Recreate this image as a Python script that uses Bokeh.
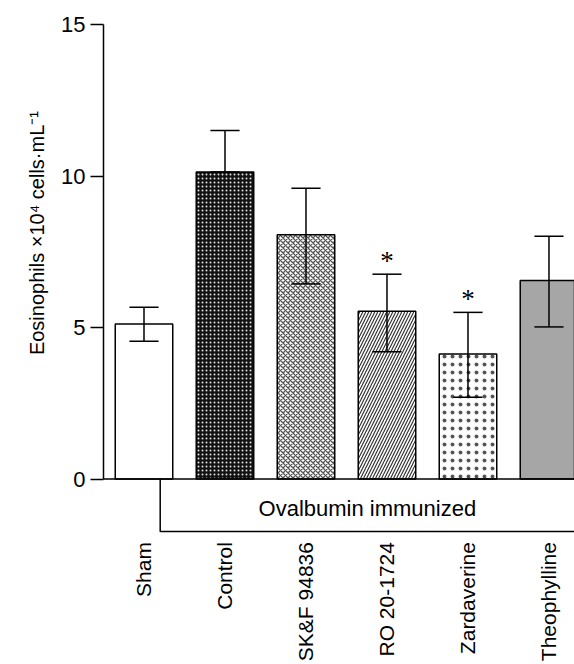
import math
from bokeh.plotting import figure
from bokeh.models import FixedTicker, Span, ColumnDataSource, Title
from bokeh.core.properties import value
from bokeh.embed import file_html
from bokeh.resources import INLINE

# ---- data ----
categories = ["Sham", "Control", "SK&F 94836", "RO 20-1724", "Zardaverine", "Theophylline"]
means = [5.12, 10.13, 8.06, 5.54, 4.13, 6.55]
err_low = [4.55, 10.13, 6.44, 4.20, 2.70, 5.02]
err_high = [5.67, 11.50, 9.60, 6.76, 5.50, 8.01]
significant = [False, False, False, True, True, False]
y_ticks = [0, 5, 10, 15]
group_label = "Ovalbumin immunized"
y_title = "Eosinophils  \u00d710\u2074 cells\u00b7mL\u207b\u00b9"

# ---- styles ----
FONT = "Liberation Sans"
bar_styles = [
    dict(fill_color="white"),
    dict(fill_color="#121212", hatch_pattern="dot", hatch_color="#e0e0e0", hatch_scale=4, hatch_weight=0.5),
    dict(fill_color="white", hatch_pattern="diagonal_cross", hatch_color="#555555", hatch_scale=5, hatch_weight=1.3),
    dict(fill_color="white", hatch_pattern="right_diagonal_line", hatch_color="#333333", hatch_scale=6, hatch_weight=1.2),
    dict(fill_color="white", hatch_pattern="dot", hatch_color="#555555", hatch_scale=8, hatch_weight=0.2),
    dict(fill_color="#a6a6a6"),
]
BAR_W = 0.71
CAP_HALF = 0.18
X_START, X_END = -0.5, 5.315
Y_START, Y_END = -6.12, 15

xs = list(range(len(categories)))

p = figure(width=574, height=664, output_backend="svg", toolbar_location=None,
           x_range=(X_START, X_END), y_range=(Y_START, Y_END),
           x_axis_type=None, min_border_left=103, min_border_right=0,
           min_border_top=24, min_border_bottom=0)
p.outline_line_color = None
p.xgrid.visible = False
p.ygrid.visible = False
p.background_fill_color = "white"
p.border_fill_color = "white"

# bars
for i, (x, m) in enumerate(zip(xs, means)):
    p.vbar(x=[x], top=[m], bottom=0, width=BAR_W, line_color="black", line_width=1.5, **bar_styles[i])

# error bars
src = ColumnDataSource(dict(x=xs, lo=err_low, hi=err_high,
                            x0=[x - CAP_HALF for x in xs], x1=[x + CAP_HALF for x in xs]))
p.segment(x0="x", y0="lo", x1="x", y1="hi", source=src, line_color="black", line_width=1.5)
p.segment(x0="x0", y0="hi", x1="x1", y1="hi", source=src, line_color="black", line_width=1.5)
p.segment(x0="x0", y0="lo", x1="x1", y1="lo", source=src, line_color="black", line_width=1.5)

# significance stars
sx = [x for x, s in zip(xs, significant) if s]
sy = [h + 0.43 for h, s in zip(err_high, significant) if s]
p.text(x=sx, y=sy, text=["*"] * len(sx), text_align="center", text_baseline="alphabetic",
       text_font=value("Liberation Serif"), text_font_size="27px", text_color="black")

# baseline
p.add_layout(Span(location=0, dimension="width", line_color="black", line_width=1.5))

# group bracket
BR_X = 0.2
BR_Y = -1.73
p.line(x=[BR_X, BR_X, X_END + 1], y=[0, BR_Y, BR_Y], line_color="black", line_width=1.5)
p.text(x=[(BR_X + X_END) / 2], y=[-0.96], text=[group_label], text_align="center",
       text_baseline="middle", text_font=value(FONT), text_font_size="22px", text_color="black")

# category labels
p.text(x=xs, y=[-2.08] * len(xs), text=categories, angle=math.pi / 2, text_align="right",
       text_baseline="middle", text_font=value(FONT), text_font_size="21px", text_color="black")

# y axis
ya = p.yaxis[0]
ya.ticker = FixedTicker(ticks=y_ticks)
ya.bounds = (0, 15)
ya.minor_tick_line_color = None
ya.major_tick_in = 0
ya.major_tick_out = 13
ya.major_tick_line_width = 1.5
ya.axis_line_width = 1.5
ya.major_label_standoff = 5
ya.major_label_text_font = FONT
ya.major_label_text_font_size = "22px"
ya.major_label_text_color = "black"

# y axis title as a side title, aligned toward the top of the axis
p.add_layout(Title(text=y_title, align="right", offset=81, standoff=22, text_font=FONT,
                   text_font_size="20px", text_font_style="normal", text_color="black"), "left")

open("out.html", "w").write(file_html(p, INLINE))
